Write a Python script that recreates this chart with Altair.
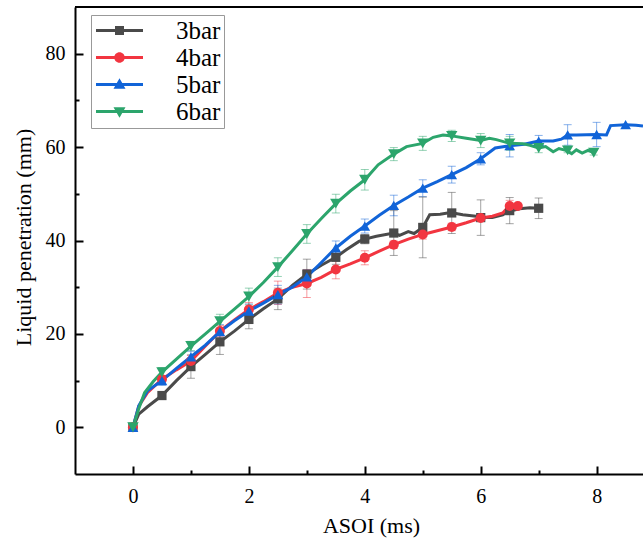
import altair as alt
import pandas as pd

series = ["3bar", "4bar", "5bar", "6bar"]
colors = ["#4a4a4a", "#f23540", "#1164d8", "#2ca56c"]
shapes = ["square", "circle", "triangle-up", "triangle-down"]
marker_sizes = [85, 130, 170, 170]

# dense curves (ASOI ms, penetration mm)
x_3bar = [0, 0.1, 0.25, 0.5, 0.75, 1.0, 1.25, 1.5, 1.75, 2.0, 2.25, 2.5, 2.75, 3.0, 3.25, 3.5, 3.68, 3.9,
          4.0, 4.2, 4.5, 4.6, 4.75, 4.85, 5.0, 5.12, 5.3, 5.48, 5.69, 5.92, 6.03, 6.2, 6.38, 6.47, 6.67,
          6.85, 7.0]
y_3bar = [0, 2.8, 4.4, 6.8, 10.0, 13.0, 15.6, 18.3, 20.6, 23.1, 25.4, 27.5, 30.4, 32.8, 34.7, 36.4, 38.0, 39.8,
          40.3, 40.9, 41.6, 41.1, 41.9, 41.5, 42.8, 45.5, 45.6, 46.0, 45.5, 45.2, 44.9, 44.9, 45.5, 46.2, 46.8,
          47.0, 46.9]

x_4bar = [0, 0.1, 0.25, 0.5, 0.75, 1.0, 1.25, 1.5, 1.75, 2.0, 2.25, 2.5, 2.75, 3.0, 3.25, 3.5, 3.75, 4.0,
          4.25, 4.5, 4.75, 5.0, 5.25, 5.5, 5.75, 6.0, 6.2, 6.38, 6.49, 6.64]
y_4bar = [0, 4.5, 7.4, 10.3, 12.3, 14.2, 17.4, 20.6, 23.0, 25.2, 26.9, 28.8, 30.0, 30.8, 32.1, 33.8, 35.0, 36.3,
          37.7, 39.1, 40.3, 41.3, 42.1, 42.9, 43.8, 44.8, 45.2, 45.9, 47.4, 47.4]

x_5bar = [0, 0.1, 0.25, 0.5, 0.75, 1.0, 1.25, 1.5, 1.75, 2.0, 2.25, 2.5, 2.75, 3.0, 3.25, 3.5, 3.75, 4.0,
          4.25, 4.5, 4.75, 5.0, 5.25, 5.5, 5.75, 6.0, 6.25, 6.5, 6.75, 7.0, 7.25, 7.39, 7.5, 7.65, 8.0,
          8.17, 8.24, 8.5, 8.68, 8.8]
y_5bar = [0, 4.6, 7.8, 10.0, 12.6, 15.1, 17.6, 20.5, 22.8, 24.9, 26.6, 28.4, 30.0, 32.2, 35.3, 38.4, 40.9, 43.1,
          45.4, 47.5, 49.3, 51.2, 52.6, 54.1, 55.6, 57.5, 59.8, 60.3, 60.6, 61.3, 61.3, 61.7, 62.6, 62.6, 62.7,
          62.6, 64.6, 64.8, 64.7, 64.5]

x_6bar = [0, 0.1, 0.2, 0.35, 0.5, 0.75, 1.0, 1.25, 1.5, 1.75, 2.0, 2.25, 2.5, 2.75, 3.0, 3.25, 3.5, 3.75,
          4.0, 4.23, 4.5, 4.72, 5.0, 5.18, 5.35, 5.5, 5.75, 6.0, 6.15, 6.27, 6.5, 6.73, 6.85, 7.0, 7.12,
          7.25, 7.35, 7.47, 7.57, 7.65, 7.75, 7.85, 7.95]
y_6bar = [0, 4.0, 7.4, 9.8, 11.8, 14.6, 17.4, 20.0, 22.7, 25.3, 28.0, 31.0, 34.3, 37.8, 41.4, 44.7, 47.9, 50.6,
          53.0, 56.2, 58.5, 60.1, 60.8, 62.1, 62.6, 62.4, 61.9, 61.4, 61.9, 61.6, 60.8, 60.7, 60.4, 59.8, 60.1,
          59.0, 59.7, 59.3, 58.6, 59.4, 58.7, 59.3, 58.8]

# markers with error (half range)
mx_3bar = [0, 0.5, 1.0, 1.5, 2.0, 2.5, 3.0, 3.5, 4.0, 4.5, 5.0, 5.5, 6.0, 6.5, 7.0]
my_3bar = [0, 6.8, 13.0, 18.3, 23.1, 27.5, 32.8, 36.4, 40.3, 41.6, 42.8, 45.9, 44.9, 46.4, 46.9]
me_3bar = [0, 0.8, 2.5, 2.7, 2.0, 2.3, 3.2, 1.5, 1.0, 4.8, 6.5, 4.4, 3.8, 2.8, 2.2]

mx_4bar = [0, 0.5, 1.0, 1.5, 2.0, 2.5, 3.0, 3.5, 4.0, 4.5, 5.0, 5.5, 6.0, 6.5, 6.64]
my_4bar = [0, 10.3, 14.2, 20.6, 25.2, 28.8, 30.8, 33.8, 36.3, 39.1, 41.3, 42.9, 44.8, 47.4, 47.4]
me_4bar = [0, 0.8, 1.2, 1.2, 1.5, 2.5, 3.0, 2.0, 1.5, 0.8, 1.0, 0.8, 0.6, 1.2, 0]

mx_5bar = [0, 0.5, 1.0, 1.5, 2.0, 2.5, 3.0, 3.5, 4.0, 4.5, 5.0, 5.5, 6.0, 6.5, 7.0, 7.5, 8.0, 8.5]
my_5bar = [0, 10.0, 15.1, 20.5, 24.9, 28.4, 32.2, 38.4, 43.1, 47.5, 51.2, 54.1, 57.5, 60.3, 61.3, 62.6, 62.7, 64.8]
me_5bar = [0, 1.0, 1.2, 1.5, 1.5, 2.0, 1.5, 1.5, 1.5, 2.2, 1.8, 1.8, 1.3, 2.4, 1.2, 2.2, 2.6, 0]

mx_6bar = [0, 0.5, 1.0, 1.5, 2.0, 2.5, 3.0, 3.5, 4.0, 4.5, 5.0, 5.5, 6.0, 6.5, 7.0, 7.5, 7.95]
my_6bar = [0, 11.8, 17.4, 22.7, 28.0, 34.3, 41.4, 47.9, 53.0, 58.5, 60.8, 62.4, 61.4, 60.8, 59.8, 59.3, 58.8]
me_6bar = [0, 1.0, 1.0, 1.5, 1.8, 2.0, 2.0, 2.0, 2.2, 1.4, 1.5, 1.2, 1.5, 1.5, 1.0, 0.5, 0.5]

x_ticks = [0, 1, 2, 3, 4, 5, 6, 7, 8]
y_ticks = [0, 10, 20, 30, 40, 50, 60, 70, 80]

# ---------------- tables ----------------
curves = {"3bar": (x_3bar, y_3bar), "4bar": (x_4bar, y_4bar),
          "5bar": (x_5bar, y_5bar), "6bar": (x_6bar, y_6bar)}
marks = {"3bar": (mx_3bar, my_3bar, me_3bar), "4bar": (mx_4bar, my_4bar, me_4bar),
         "5bar": (mx_5bar, my_5bar, me_5bar), "6bar": (mx_6bar, my_6bar, me_6bar)}

line_rows = []
for s in series:
    xs, ys = curves[s]
    for i, (a, b) in enumerate(zip(xs, ys)):
        line_rows.append({"series": s, "t": a, "v": b, "ord": i})
lines_df = pd.DataFrame(line_rows)

mk_rows = []
for s in series:
    xs, ys, es = marks[s]
    for a, b, e in zip(xs, ys, es):
        mk_rows.append({"series": s, "t": a, "v": b, "lo": b - e, "hi": b + e, "e": e})
mk_df = pd.DataFrame(mk_rows)
err_df = mk_df[mk_df["e"] > 0]

W, H = 568, 467
FONT = "Liberation Serif, Times New Roman, Tinos, DejaVu Serif, serif"

xs_scale = alt.Scale(domain=[-1, 8.8], nice=False, zero=False)
ys_scale = alt.Scale(domain=[-10, 90], nice=False, zero=False)
c_scale = alt.Scale(domain=series, range=colors)

x_axis = alt.Axis(
    values=x_ticks, title="ASOI (ms)",
    tickSize=alt.ExprRef(expr="datum.value % 2 === 0 ? -8 : -4"),
    labelExpr="datum.value % 2 === 0 ? datum.label : ''",
    labelPadding=20, labelOverlap=False, labelFlush=False,
    labelFont=FONT, labelFontSize=20, labelColor="black",
    titleFont=FONT, titleFontSize=22, titleFontWeight="normal", titleColor="black",
    titleX=296, titleY=58, titleBaseline="alphabetic",
    domainColor="black", domainWidth=2, tickColor="black", tickWidth=2, grid=False,
)
y_axis = alt.Axis(
    values=y_ticks, title="Liquid penetration (mm)",
    tickSize=alt.ExprRef(expr="datum.value % 20 === 0 ? -8 : -4"),
    labelExpr="datum.value % 20 === 0 ? datum.label : ''",
    labelPadding=18, labelOverlap=False, labelFlush=False,
    labelFont=FONT, labelFontSize=20, labelColor="black",
    titleFont=FONT, titleFontSize=22, titleFontWeight="normal", titleColor="black",
    titleX=-45, titleY=230, titleBaseline="alphabetic",
    domainColor="black", domainWidth=2, tickColor="black", tickWidth=2, grid=False,
)

X = alt.X("t:Q", scale=xs_scale, axis=x_axis)

paths = {
    "3bar": "M-4.7,-0.3H4.7V0.3H-4.7Z M-0.9,-0.9H0.9V0.9H-0.9Z",
    "4bar": "M-4.7,-0.3H4.7V0.3H-4.7Z M-1.05,0A1.05,1.05 0 1 1 1.05,0A1.05,1.05 0 1 1 -1.05,0Z",
    "5bar": "M-4.7,-0.3H4.7V0.3H-4.7Z M0,-1.25L1.2,0.85L-1.2,0.85Z",
    "6bar": "M-4.7,-0.3H4.7V0.3H-4.7Z M-1.2,-0.85L1.2,-0.85L0,1.25Z",
}
sym_expr = ("datum.value === '3bar' ? '%s' : datum.value === '4bar' ? '%s' : "
            "datum.value === '5bar' ? '%s' : '%s'") % (paths["3bar"], paths["4bar"],
                                                       paths["5bar"], paths["6bar"])

legend = alt.Legend(
    title=None, orient="none", legendX=16, legendY=8,
    symbolType=alt.ExprRef(expr=sym_expr), symbolSize=100, symbolStrokeWidth=0,
    symbolOffset=13, labelOffset=44,
    labelFont=FONT, labelFontSize=25, labelColor="black",
    rowPadding=1, padding=3, strokeColor="#999999", fillColor="white",
)

err_rule = alt.Chart(err_df).mark_rule(strokeWidth=1, opacity=0.5).encode(
    x=X, y=alt.Y("lo:Q", scale=ys_scale, axis=y_axis), y2="hi:Q",
    color=alt.Color("series:N", scale=c_scale, legend=None))
cap_lo = alt.Chart(err_df).mark_tick(orient="horizontal", size=8, thickness=1, opacity=0.5).encode(
    x=X, y=alt.Y("lo:Q", scale=ys_scale, axis=y_axis),
    color=alt.Color("series:N", scale=c_scale, legend=None))
cap_hi = alt.Chart(err_df).mark_tick(orient="horizontal", size=8, thickness=1, opacity=0.5).encode(
    x=X, y=alt.Y("hi:Q", scale=ys_scale, axis=y_axis),
    color=alt.Color("series:N", scale=c_scale, legend=None))

lines = alt.Chart(lines_df).mark_line(strokeWidth=3, clip=True).encode(
    x=X, y=alt.Y("v:Q", scale=ys_scale, axis=y_axis),
    color=alt.Color("series:N", scale=c_scale, legend=None),
    order=alt.Order("ord:Q"))

points = alt.Chart(mk_df).mark_point(filled=True, opacity=1, strokeWidth=0, clip=True).encode(
    x=X, y=alt.Y("v:Q", scale=ys_scale, axis=y_axis),
    fill=alt.Fill("series:N", scale=alt.Scale(domain=series, range=colors), legend=legend),
    shape=alt.Shape("series:N", scale=alt.Scale(domain=series, range=shapes), legend=None),
    size=alt.Size("series:N", scale=alt.Scale(domain=series, range=marker_sizes), legend=None))

frame = alt.Chart(pd.DataFrame({"k": [0]})).mark_rule(color="black", strokeWidth=2).encode(
    x=alt.value(0), x2=alt.value(W), y=alt.value(0))

chart = alt.layer(err_rule, cap_lo, cap_hi, lines, points, frame).properties(
    width=W, height=H,
    autosize=alt.AutoSizeParams(type="none"),
    padding={"left": 75, "top": 7, "right": 0, "bottom": 65},
).resolve_scale(color="independent", fill="independent").configure_view(stroke=None)

chart.save("out.html", embed_options={"renderer": "svg", "actions": False})
